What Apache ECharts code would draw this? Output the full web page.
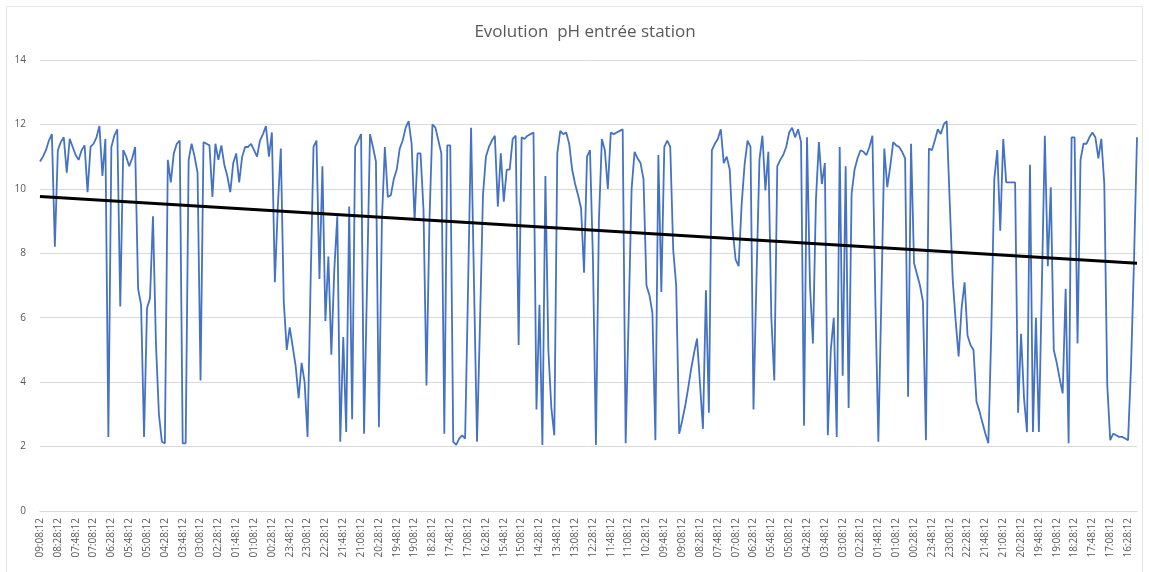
<!DOCTYPE html>
<html>
<head>
<meta charset="utf-8">
<title>Evolution pH entrée station</title>
<script src="https://cdn.jsdelivr.net/npm/echarts@6/dist/echarts.min.js"></script>
<style>
  html, body { margin: 0; padding: 0; background: #fff; }
  #chart { width: 1149px; height: 572px; }
</style>
</head>
<body>
<div id="chart"></div>
<script>
// heure de la premiere mesure, pas entre deux mesures (en secondes, on remonte le temps)
const startTime = "09:08:12";
const stepSeconds = 400;

// pH relevé
const phValues = [
  10.85, 11.0, 11.2, 11.5, 11.7, 8.2, 11.2, 11.45, 11.6, 10.5,
  11.55, 11.3, 11.05, 10.9, 11.2, 11.35, 9.9, 11.3, 11.4, 11.6,
  11.95, 10.4, 11.55, 2.3, 11.3, 11.65, 11.85, 6.35, 11.2, 11.0,
  10.7, 10.95, 11.3, 6.9, 6.4, 2.3, 6.3, 6.6, 9.15, 5.2,
  3.0, 2.15, 2.1, 10.9, 10.2, 11.1, 11.4, 11.5, 2.1, 2.1,
  10.9, 11.4, 11.0, 10.5, 4.05, 11.45, 11.4, 11.35, 9.75, 11.4,
  10.9, 11.35, 10.75, 10.4, 9.9, 10.8, 11.1, 10.2, 11.0, 11.3,
  11.3, 11.4, 11.2, 11.0, 11.5, 11.7, 11.95, 11.0, 11.75, 7.1,
  9.45, 11.25, 6.5, 5.0, 5.7, 5.1, 4.5, 3.5, 4.6, 4.0,
  2.3, 7.0, 11.3, 11.5, 7.2, 10.7, 5.9, 7.9, 4.85, 7.5,
  9.15, 2.15, 5.4, 2.45, 9.45, 2.85, 11.3, 11.5, 11.7, 2.4,
  7.0, 11.7, 11.3, 10.85, 2.6, 9.0, 11.3, 9.75, 9.8, 10.3,
  10.6, 11.25, 11.5, 11.9, 12.1, 11.4, 9.0, 11.1, 11.1, 9.35,
  3.9, 9.0, 12.0, 11.9, 11.5, 11.1, 2.4, 11.35, 11.35, 2.15,
  2.05, 2.25, 2.35, 2.25, 7.0, 11.9, 7.0, 2.15, 5.8, 9.8,
  11.0, 11.3, 11.5, 11.65, 9.45, 11.1, 9.6, 10.6, 10.6, 11.55,
  11.65, 5.15, 11.6, 11.55, 11.65, 11.7, 11.75, 3.15, 6.4, 2.05,
  10.4, 5.0, 3.2, 2.35, 11.1, 11.8, 11.7, 11.75, 11.4, 10.6,
  10.15, 9.8, 9.4, 7.4, 11.0, 11.2, 7.8, 2.05, 9.0, 11.55,
  11.2, 10.0, 11.75, 11.7, 11.75, 11.8, 11.85, 2.1, 6.0, 10.0,
  11.15, 10.95, 10.8, 10.3, 7.0, 6.7, 6.15, 2.2, 11.05, 6.8,
  11.3, 11.5, 11.3, 8.1, 7.0, 2.4, 2.8, 3.25, 3.8, 4.4,
  4.9, 5.35, 3.95, 2.55, 6.85, 3.05, 11.2, 11.4, 11.55, 11.85,
  10.8, 11.0, 10.6, 8.7, 7.8, 7.6, 9.5, 10.75, 11.5, 11.3,
  3.15, 7.2, 10.9, 11.65, 9.95, 11.15, 6.0, 4.05, 10.7, 10.9,
  11.05, 11.3, 11.75, 11.9, 11.6, 11.85, 11.45, 2.65, 11.6, 7.0,
  5.2, 9.65, 11.45, 10.15, 10.8, 2.35, 5.0, 6.0, 2.3, 11.3,
  4.2, 10.7, 3.2, 9.85, 10.6, 10.95, 11.2, 11.15, 11.05, 11.3,
  11.65, 6.5, 2.15, 6.55, 11.25, 10.05, 10.7, 11.45, 11.35, 11.3,
  11.15, 10.95, 3.55, 11.4, 7.7, 7.35, 7.0, 6.5, 2.2, 11.25,
  11.2, 11.5, 11.85, 11.7, 12.0, 12.1, 9.6, 7.2, 5.9, 4.8,
  6.3, 7.1, 5.45, 5.15, 5.0, 3.4, 3.1, 2.75, 2.4, 2.1,
  5.6, 10.3, 11.2, 8.7, 11.55, 10.2, 10.2, 10.2, 10.2, 3.05,
  5.5, 3.5, 2.45, 10.75, 2.45, 6.0, 2.45, 7.0, 11.65, 7.6,
  10.05, 5.0, 4.6, 4.1, 3.65, 6.9, 2.1, 11.6, 11.6, 5.2,
  10.9, 11.4, 11.4, 11.6, 11.75, 11.6, 10.95, 11.55, 10.15, 3.9,
  2.2, 2.4, 2.35, 2.3, 2.3, 2.25, 2.2, 4.5, 7.8, 11.6
];

// courbe de tendance linéaire (valeur au début et à la fin)
const trendStart = 9.76;
const trendEnd = 7.69;

// axe des y
const yMin = 0;
const yMax = 14;
const yStep = 2;

// construit les libellés horaires
function buildTimes(start, step, count) {
  const p = start.split(":").map(Number);
  let t0 = p[0] * 3600 + p[1] * 60 + p[2];
  const out = [];
  for (let i = 0; i < count; i++) {
    let s = (((t0 - step * i) % 86400) + 86400) % 86400;
    const h = Math.floor(s / 3600);
    const m = Math.floor((s % 3600) / 60);
    const sec = s % 60;
    out.push(
      String(h).padStart(2, "0") + ":" +
      String(m).padStart(2, "0") + ":" +
      String(sec).padStart(2, "0")
    );
  }
  return out;
}

const times = buildTimes(startTime, stepSeconds, phValues.length);

// tendance : seulement les deux extrémités, reliées
const trendData = phValues.map(() => null);
trendData[0] = trendStart;
trendData[trendData.length - 1] = trendEnd;

const myChart = echarts.init(document.getElementById("chart"), null, { renderer: "canvas" });
const grey = "#595959";

myChart.setOption({
  animation: false,
  backgroundColor: "#fff",
  textStyle: { fontFamily: "'Open Sans', 'Liberation Sans', sans-serif" },
  title: {
    text: "Evolution  pH entrée station",
    left: 580,
    textAlign: "center",
    top: 19,
    textStyle: { color: grey, fontSize: 17, fontWeight: "normal" },
  },
  graphic: [
    {
      type: "rect",
      shape: { x: 6.5, y: 6.5, width: 1136, height: 580 },
      style: { fill: "none", stroke: "#e6e6e6", lineWidth: 1 },
      silent: true,
    },
  ],
  grid: {
    left: 40,
    right: 12,
    top: 60,
    bottom: 61,
  },
  xAxis: {
    type: "category",
    boundaryGap: false,
    data: times,
    axisLine: { lineStyle: { color: "#d9d9d9" } },
    axisTick: { show: false },
    axisLabel: {
      interval: 5,
      rotate: 90,
      color: grey,
      fontSize: 10,
      margin: 7,
    },
    splitLine: { show: false },
  },
  yAxis: {
    type: "value",
    min: yMin,
    max: yMax,
    interval: yStep,
    axisLine: { show: false },
    axisTick: { show: false },
    axisLabel: { color: grey, fontSize: 10, margin: 14 },
    splitLine: { lineStyle: { color: "#d9d9d9", width: 1 } },
  },
  series: [
    {
      name: "pH",
      type: "line",
      data: phValues,
      symbol: "none",
      lineStyle: { color: "#4472C4", width: 1.8 },
      z: 2,
    },
    {
      name: "Tendance",
      type: "line",
      data: trendData,
      connectNulls: true,
      symbol: "none",
      lineStyle: { color: "#000", width: 3 },
      z: 3,
    },
  ],
});
</script>
</body>
</html>
